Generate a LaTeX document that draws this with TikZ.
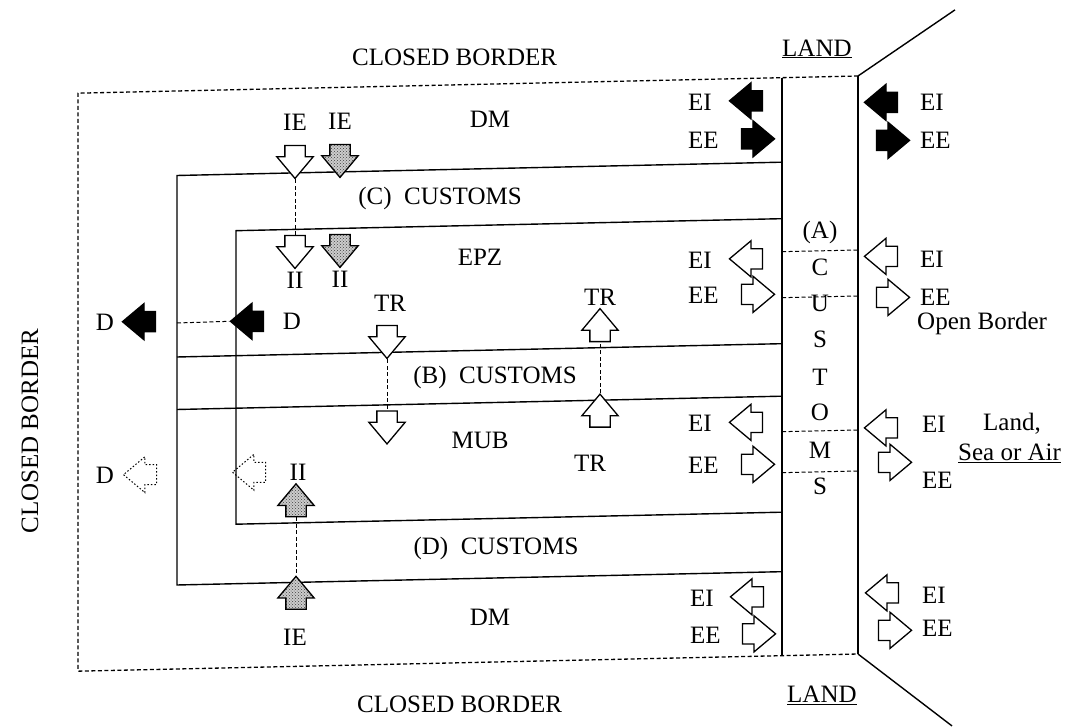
\documentclass[tikz,border=0pt]{standalone}
\usepackage{fontspec}
\setmainfont{Liberation Serif}
\usetikzlibrary{shapes.arrows,patterns}
\begin{document}
\begin{tikzpicture}[x=1pt,y=-1pt,
  frame/.style={line width=1.4pt},
  dsh/.style={line width=1.3pt, dash pattern=on 4pt off 2.5pt},
  lbl/.style={font=\fontsize{25}{30}\selectfont, inner sep=0pt},
  barrow/.style={single arrow, draw, line width=1.3pt, minimum height=33pt, minimum width=0pt,
     single arrow head extend=8pt, single arrow tip angle=80, inner xsep=0pt, inner ysep=9.5pt},
  whitearrow/.style={barrow, fill=white},
  blackarrow/.style={barrow, fill=black},
  grayarrow/.style={barrow, preaction={fill=black!20}, pattern=crosshatch dots, pattern color=black!75},
  dotarrow/.style={barrow, line width=1pt, dash pattern=on 1.5pt off 2pt},
]
\useasboundingbox (0,0) rectangle (1081,726);
\begin{scope}[cm={1,0.022,0,1,(0pt,-11.88pt)}]
% coordinates
\coordinate (oTL) at (78,83);
\coordinate (oBL) at (78,661);
\coordinate (sTL) at (782,83);
\coordinate (sBL) at (782,661);
\coordinate (sTR) at (858,83);
\coordinate (sBR) at (858,661);
\coordinate (dTop) at (955,19);
\coordinate (dBot) at (952,735);
% outer closed border (dashed)
\draw[dsh] (sTR) -- (oTL) -- (oBL) -- (sBR);
% customs strip
\draw[frame] (sTL) -- (sBL);
\draw[frame] (sTR) -- (sBR);
\draw[frame] (sTR) -- (dTop);
\draw[frame] (sBR) -- (dBot);
% customs C/D frame
\coordinate (cTR) at (782,167.5);
\coordinate (cTL) at (177,167.5);
\coordinate (cBL) at (177,577);
\coordinate (cBR) at (782,577);
\draw[frame] (cTR) -- (cTL) -- (cBL) -- (cBR);
% inner EPZ/MUB frame
\coordinate (iTR) at (782,224);
\coordinate (iTL) at (236,224);
\coordinate (iBL) at (236,517.5);
\coordinate (iBR) at (782,517.5);
\draw[frame] (iTR) -- (iTL) -- (iBL) -- (iBR);
% B customs band
\coordinate (bTL) at (177,349);
\coordinate (bTR) at (782,349);
\coordinate (bBL) at (177,401.5);
\coordinate (bBR) at (782,401.5);
\draw[frame] (bTL) -- (bTR);
\draw[frame] (bBL) -- (bBR);
% dashed lines across customs strip
\foreach \yy/\nm in {257/a,303/b,437/c,478/d}{
  \coordinate (sl\nm) at (782,\yy);
  \coordinate (sr\nm) at (858,\yy);
  \draw[dsh, line width=1pt] (sl\nm) -- (sr\nm);
}
% strip letters
\node[lbl] (lA) at (820,239) {(A)};
\node[lbl] (l1) at (820,274) {C};
\node[lbl] (l2) at (820,310) {U};
\node[lbl] (l3) at (820,346) {S};
\node[lbl] (l4) at (820,383) {T};
\node[lbl] (l5) at (820,419) {O};
\node[lbl] (l6) at (820,456) {M};
\node[lbl] (l7) at (820,492) {S};
% titles
\node[lbl, anchor=base west] (cbTop) at (352,61.5) {CLOSED BORDER};
\node[lbl, anchor=base west] (landTop) at (782,61.5) {\underline{LAND}};
\node[lbl, anchor=base west] (cbBot) at (357,708) {CLOSED BORDER};
\node[lbl, anchor=base west] (landBot) at (787,708) {\underline{LAND}};
\node[lbl, rotate=90] (cbLeft) at (30,420) {CLOSED BORDER};
% region labels
\node[lbl] (dmTop) at (490,118) {DM};
\node[lbl] (cCust) at (440,196) {(C)\hspace{0.5em}CUSTOMS};
\node[lbl] (epz) at (480,256) {EPZ};
\node[lbl] (bCust) at (495,376) {(B)\hspace{0.5em}CUSTOMS};
\node[lbl] (mub) at (480,439) {MUB};
\node[lbl] (dCust) at (496,548) {(D)\hspace{0.5em}CUSTOMS};
\node[lbl] (dmBot) at (490,616) {DM};
% IE / II top
\node[lbl] (ieT1) at (295,117) {IE};
\node[lbl] (ieT2) at (340,117) {IE};
\node[whitearrow, rotate=-90] (ieA) at (295,150.5) {};
\node[grayarrow, rotate=-90] (ieG) at (340,150.5) {};
\node[whitearrow, rotate=-90] (iiA) at (295,240.5) {};
\node[grayarrow, rotate=-90] (iiG) at (340,240.5) {};
\node[lbl] (iiT1) at (295,275) {II};
\node[lbl] (iiT2) at (340,275) {II};
\draw[dsh, line width=1pt] (ieA.tip) -- (iiA.tail);
% TR
\node[lbl] (trT1) at (390,300) {TR};
\node[lbl] (trT2) at (600,299) {TR};
\node[lbl] (trT3) at (590,464) {TR};
\node[whitearrow, rotate=-90] (trA) at (387,332.5) {};
\node[whitearrow, rotate=-90] (trB) at (387,418) {};
\node[whitearrow, rotate=90] (trC) at (600,332.5) {};
\node[whitearrow, rotate=90] (trD) at (600,418) {};
\draw[dsh, line width=1pt] (trA.tip) -- (trB.tail);
\draw[dsh, line width=1pt] (trD.tip) -- (trC.tail);
% D arrows
\node[lbl] (dL1) at (105,313) {D};
\node[blackarrow, rotate=180] (dOut) at (145,313) {};
\node[blackarrow, rotate=180] (dIn) at (253,315) {};
\node[lbl] (dR1) at (292,316) {D};
\coordinate (dC) at (177,315);
\draw[dsh, line width=1pt] (dC) -- (dIn.tip);
\node[lbl] (dL2) at (105,466) {D};
\node[dotarrow, rotate=180] (dotOut) at (146,466) {};
\node[dotarrow, rotate=180] (dotIn) at (255,466) {};
\node[lbl] (iiB1) at (298,467) {II};
% bottom II / IE
\node[grayarrow, rotate=90] (iiB) at (296,501) {};
\node[grayarrow, rotate=90] (ieB) at (296,593.5) {};
\node[lbl] (ieBt) at (295,632) {IE};
\draw[dsh, line width=1pt] (iiB.tail) -- (ieB.tip);
% inner EI / EE
\node[lbl, anchor=west] (eiA) at (688,105.5) {EI};
\node[lbl, anchor=west] (eeA) at (688,143.5) {EE};
\node[blackarrow, rotate=180] (aEiA) at (752,105.5) {};
\node[blackarrow] (aEeA) at (752,143.5) {};
\node[lbl, anchor=west] (eiB) at (688,263.5) {EI};
\node[lbl, anchor=west] (eeB) at (688,299) {EE};
\node[whitearrow, rotate=180] (aEiB) at (752,263.5) {};
\node[whitearrow] (aEeB) at (752,299) {};
\node[lbl, anchor=west] (eiC) at (688,427) {EI};
\node[lbl, anchor=west] (eeC) at (688,469) {EE};
\node[whitearrow, rotate=180] (aEiC) at (752,427) {};
\node[whitearrow] (aEeC) at (752,469) {};
\node[lbl, anchor=west] (eiD) at (690,601.5) {EI};
\node[lbl, anchor=west] (eeD) at (690,638.5) {EE};
\node[whitearrow, rotate=180] (aEiD) at (753,601.5) {};
\node[whitearrow] (aEeD) at (753,638.5) {};
% outer EI / EE
\node[blackarrow, rotate=180] (oEiA) at (887,110) {};
\node[blackarrow] (oEeA) at (887,148) {};
\node[lbl, anchor=west] (oeiA) at (920,110.5) {EI};
\node[lbl, anchor=west] (oeeA) at (920,148.5) {EE};
\node[whitearrow, rotate=180] (oEiB) at (887,264) {};
\node[whitearrow] (oEeB) at (887,305) {};
\node[lbl, anchor=west] (oeiB) at (920,268) {EI};
\node[lbl, anchor=west] (oeeB) at (920,305.5) {EE};
\node[lbl, anchor=west] (open) at (917,332) {Open Border};
\node[whitearrow, rotate=180] (oEiC) at (887,435.5) {};
\node[whitearrow] (oEeC) at (889,470) {};
\node[lbl, anchor=west] (oeiC) at (922,433) {EI};
\node[lbl, anchor=west] (land) at (983,433) {Land,};
\node[lbl, anchor=west] (sea) at (958,463) {\underline{Sea or Air}};
\node[lbl, anchor=west] (oeeC) at (922,489) {EE};
\node[whitearrow, rotate=180] (oEiD) at (888,600.5) {};
\node[whitearrow] (oEeD) at (889,638) {};
\node[lbl, anchor=west] (oeiD) at (922,603.5) {EI};
\node[lbl, anchor=west] (oeeD) at (922,637) {EE};
\end{scope}
\end{tikzpicture}
\end{document}
